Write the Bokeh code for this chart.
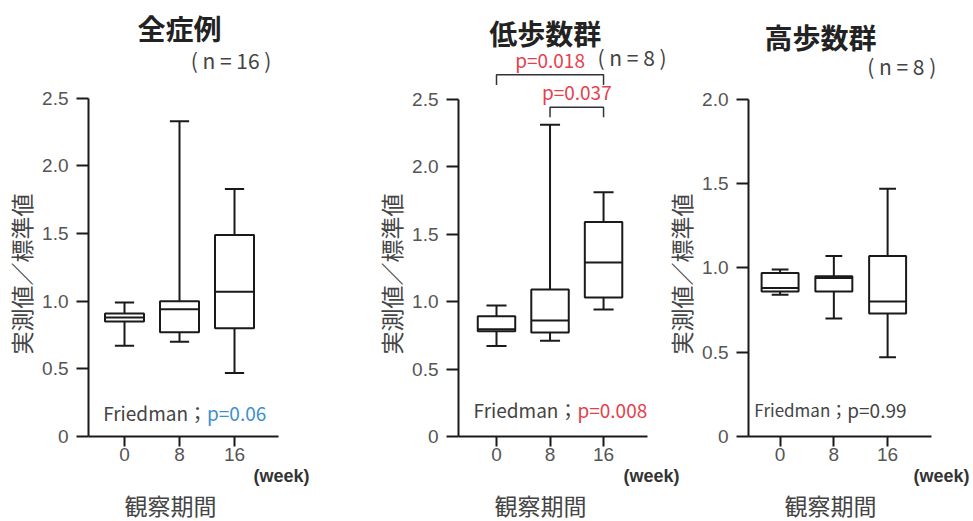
from bokeh.plotting import figure
from bokeh.layouts import row
from bokeh.models import Label, Title, FixedTicker, CustomJSTickFormatter, Range1d, ColumnDataSource
from bokeh.embed import file_html
from bokeh.resources import INLINE

# observation weeks
weeks = [0, 8, 16]

# 全症例 (n = 16): ratio measured / standard value
all_lo = [0.67, 0.70, 0.47]
all_q1 = [0.85, 0.77, 0.80]
all_med = [0.88, 0.94, 1.07]
all_q3 = [0.91, 1.00, 1.49]
all_hi = [0.99, 2.33, 1.83]

# 低歩数群 (n = 8)
low_lo = [0.67, 0.71, 0.94]
low_q1 = [0.78, 0.77, 1.03]
low_med = [0.795, 0.86, 1.29]
low_q3 = [0.89, 1.09, 1.59]
low_hi = [0.97, 2.31, 1.81]

# 高歩数群 (n = 8)
high_lo = [0.84, 0.70, 0.47]
high_q1 = [0.86, 0.86, 0.73]
high_med = [0.88, 0.94, 0.80]
high_q3 = [0.97, 0.95, 1.07]
high_hi = [0.99, 1.07, 1.47]

# pairwise comparisons in the low-step group
low_pairs = [(0, 16), (8, 16)]
low_pair_p = ["p=0.018", "p=0.037"]

friedman_p = ["p=0.06", "p=0.008", "p=0.99"]
friedman_col = ["#3d8fd1", "#e5404b", "#444444"]

FONT = "Noto Sans CJK JP"
NUM_FONT = "Liberation Sans"
INK = "#1a1a1a"


def make_panel(width, border_left, xr, x_axis_end, y_end, y_top, y_ticks):
    p = figure(width=width, height=521, output_backend="svg", toolbar_location=None,
               x_range=Range1d(*xr), y_range=Range1d(0, y_end),
               min_border_left=border_left, min_border_right=0,
               min_border_top=0, min_border_bottom=84)
    p.grid.visible = False
    p.outline_line_color = None
    p.background_fill_color = None
    p.border_fill_color = None

    xa = p.xaxis[0]
    xa.ticker = FixedTicker(ticks=weeks)
    xa.bounds = (xr[0], x_axis_end)
    xa.major_tick_out = 10
    xa.major_label_standoff = 1

    ya = p.yaxis[0]
    ya.ticker = FixedTicker(ticks=y_ticks)
    ya.bounds = (0, y_top)
    ya.formatter = CustomJSTickFormatter(code="return tick == 0 ? '0' : tick.toFixed(1);")
    ya.major_tick_out = 12
    ya.major_label_standoff = 8

    for ax in (xa, ya):
        ax.axis_line_width = 2
        ax.axis_line_color = INK
        ax.major_tick_line_width = 2
        ax.major_tick_line_color = INK
        ax.major_tick_in = 0
        ax.minor_tick_line_color = None
        ax.major_label_text_font = NUM_FONT
        ax.major_label_text_font_size = "19px"
        ax.major_label_text_color = "#555555"

    # axis titles: unit note next to the last tick, period label beneath, value label on the left
    p.add_layout(Title(text="(week)", align="left", offset=165, standoff=0,
                       text_font=NUM_FONT, text_font_size="18px", text_font_style="bold",
                       text_color="#333333"), "below")
    p.add_layout(Title(text="観察期間", align="left", offset=36, standoff=0,
                       text_font=FONT, text_font_size="23px", text_font_style="normal",
                       text_color="#444444"), "below")
    p.add_layout(Title(text="実測値／標準値", align="left", offset=82, standoff=3,
                       text_font=FONT, text_font_size="23px", text_font_style="normal",
                       text_color="#444444"), "left")
    return p


def draw_boxes(p, lo, q1, med, q3, hi, box_w, cap_w):
    src = ColumnDataSource(dict(
        x=weeks, lo=lo, q1=q1, med=med, q3=q3, hi=hi,
        left=[w - box_w / 2 for w in weeks], right=[w + box_w / 2 for w in weeks],
        cl=[w - cap_w / 2 for w in weeks], cr=[w + cap_w / 2 for w in weeks],
    ))
    lw = 2
    p.segment(x0="x", x1="x", y0="q3", y1="hi", source=src, line_color=INK, line_width=lw)
    p.segment(x0="x", x1="x", y0="q1", y1="lo", source=src, line_color=INK, line_width=lw)
    p.segment(x0="cl", x1="cr", y0="hi", y1="hi", source=src, line_color=INK, line_width=lw)
    p.segment(x0="cl", x1="cr", y0="lo", y1="lo", source=src, line_color=INK, line_width=lw)
    p.quad(left="left", right="right", bottom="q1", top="q3", source=src,
           fill_color="white", line_color=INK, line_width=lw)
    p.segment(x0="left", x1="right", y0="med", y1="med", source=src, line_color=INK, line_width=lw)


def add_text(p, x, y, text, size, color="#444444", align="left", baseline="middle", bold=False):
    p.add_layout(Label(x=x, y=y, text=text, text_font=FONT, text_font_size=size,
                       text_color=color, text_align=align, text_baseline=baseline,
                       text_font_style="bold" if bold else "normal"))


def friedman(p, x, y, ptxt, pcol, size="19px", psize="19px"):
    add_text(p, x, y, "Friedman；", size, "#444444", align="right")
    add_text(p, x, y, ptxt, psize, pcol, align="left")


N16 = "( n = 16 )"
N8 = "( n = 8 )"

# ---- 全症例 ----
p1 = make_panel(330, 88, (-5.236, 29.96), 22.4, 437 / 135.6, 2.5, [0, 0.5, 1.0, 1.5, 2.0, 2.5])
draw_boxes(p1, all_lo, all_q1, all_med, all_q3, all_hi, 5.67, 2.8)
add_text(p1, 8.0, 3.02, "全症例", "28px", "#222222", align="center", bold=True)
add_text(p1, 15.5, 2.78, N16, "21px", "#444444", align="center")
friedman(p1, 12.0, 0.177, friedman_p[0], friedman_col[0])

# ---- 低歩数群 ----
p2 = make_panel(370, 128, (-5.68, 30.49), 22.57, 437.7 / 135.5, 2.5, [0, 0.5, 1.0, 1.5, 2.0, 2.5])
draw_boxes(p2, low_lo, low_q1, low_med, low_q3, low_hi, 5.6, 3.0)
add_text(p2, 7.3, 2.99, "低歩数群", "28px", "#222222", align="center", bold=True)
add_text(p2, 15.1, 2.81, N8, "21px", "#444444", align="left")
friedman(p2, 12.1, 0.197, friedman_p[1], friedman_col[1])

# significance brackets above the low-step boxes
top_hi = max(low_hi)
for level, ((a, b), ptxt) in enumerate(sorted(zip(low_pairs, low_pair_p), key=lambda t: t[0][1] - t[0][0])):
    yb = top_hi + 0.13 + 0.24 * level
    p2.line(x=[a, a, b, b], y=[yb - 0.075, yb, yb, yb - 0.075], line_color="#333333", line_width=1.5)
    add_text(p2, (a + b) / 2, yb + 0.015, ptxt, "19px", "#e5404b", align="center", baseline="bottom")

# ---- 高歩数群 ----
p3 = make_panel(313, 85, (-4.70, 28.78), 22.47, 437 / 169, 2.0, [0, 0.5, 1.0, 1.5, 2.0])
p3.margin = (0, 0, 0, -40)
draw_boxes(p3, high_lo, high_q1, high_med, high_q3, high_hi, 5.5, 2.5)
add_text(p3, 6.0, 2.367, "高歩数群", "28px", "#222222", align="center", bold=True)
add_text(p3, 18.1, 2.20, N8, "21px", "#444444", align="center")
friedman(p3, 10.0, 0.16, friedman_p[2], friedman_col[2], size="17px", psize="19px")

layout = row(p1, p2, p3)
open("out.html", "w").write(file_html(layout, INLINE))
